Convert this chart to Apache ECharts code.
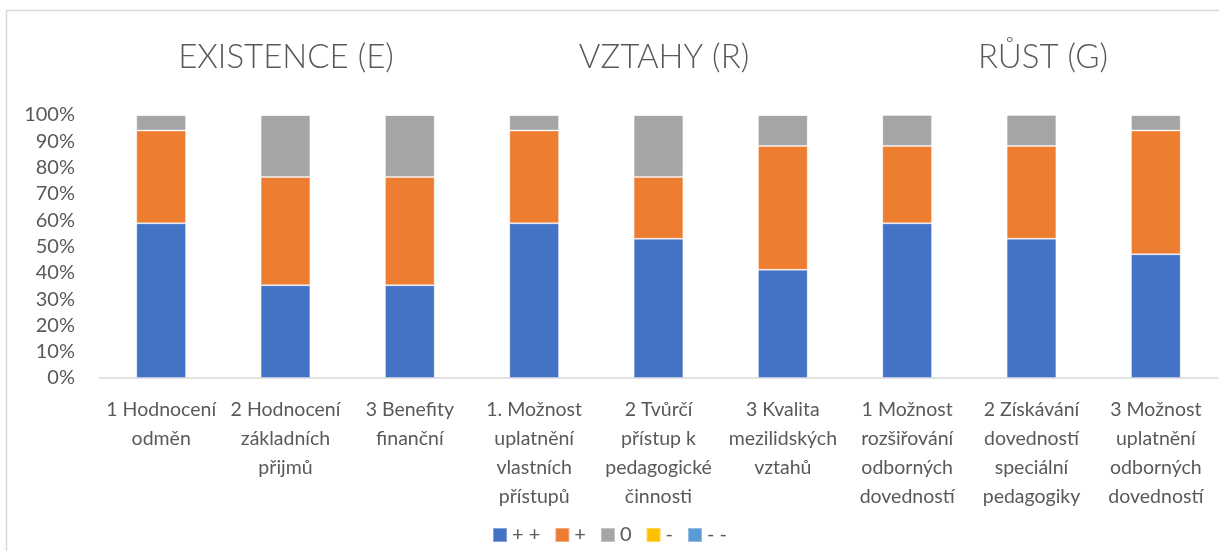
<!DOCTYPE html>
<html>
<head>
<meta charset="utf-8">
<script src="https://cdn.jsdelivr.net/npm/echarts@6/dist/echarts.min.js"></script>
<style>
  html, body { margin: 0; padding: 0; background: #fff; }
  #chart { width: 1219px; height: 551px; }
</style>
</head>
<body>
<div id="chart"></div>
<script>
// categories (line breaks as wrapped in the original)
const categories = [
  '1 Hodnocení\nodměn',
  '2 Hodnocení\nzákladních\npřijmů',
  '3 Benefity\nfinanční',
  '1. Možnost\nuplatnění\nvlastních\npřístupů',
  '2 Tvůrčí\npřístup k\npedagogické\nčinnosti',
  '3 Kvalita\nmezilidských\nvztahů',
  '1 Možnost\nrozšiřování\nodborných\ndovedností',
  '2 Získávání\ndovedností\nspeciální\npedagogiky',
  '3 Možnost\nuplatnění\nodborných\ndovedností'
]

// number of answers per category (17 respondents)
const veryPositive = [10, 6, 6, 10, 9, 7, 10, 9, 8]
const positive = [6, 7, 7, 6, 4, 8, 5, 6, 8]
const neutral = [1, 4, 4, 1, 4, 2, 2, 2, 1]
const negative = [0, 0, 0, 0, 0, 0, 0, 0, 0]
const veryNegative = [0, 0, 0, 0, 0, 0, 0, 0, 0]

const seriesNames = ['+ +', '+', '0', '-', '- -']
const colors = ['#4472C4', '#ED7D31', '#A5A5A5', '#FFC000', '#5B9BD5']

const groupTitles = ['EXISTENCE (E)', 'VZTAHY (R)', 'RŮST (G)']
const titleLefts = [281, 659, 1038]

const yTicks = [0, 10, 20, 30, 40, 50, 60, 70, 80, 90, 100]

const raw = [veryPositive, positive, neutral, negative, veryNegative]
const totals = categories.map((c, i) => raw.reduce((s, arr) => s + arr[i], 0))
const toPct = arr => arr.map((v, i) => v / totals[i] * 100)

const textColor = '#595959'
const font = 'Lato'

const chart = echarts.init(document.getElementById('chart'))

const options = {
  animation: false,
  color: colors,
  title: groupTitles.map((t, i) => ({
    text: t,
    left: titleLefts[i],
    top: 36,
    textAlign: 'center',
    textStyle: {
      fontFamily: font,
      fontWeight: 300,
      fontSize: 33,
      color: textColor
    }
  })),
  legend: {
    data: seriesNames,
    bottom: 1,
    left: 'center',
    icon: 'rect',
    itemWidth: 14,
    itemHeight: 14,
    itemGap: 14,
    textStyle: {
      fontFamily: font,
      fontSize: 20,
      color: textColor
    }
  },
  grid: {
    left: 99,
    right: 1,
    top: 115,
    bottom: 173
  },
  xAxis: {
    type: 'category',
    data: categories,
    axisTick: { show: false },
    axisLine: {
      lineStyle: { color: '#D9D9D9', width: 1.5 }
    },
    axisLabel: {
      interval: 0,
      margin: 17,
      fontFamily: font,
      fontSize: 19.5,
      lineHeight: 29,
      color: textColor
    }
  },
  yAxis: {
    type: 'value',
    min: yTicks[0],
    max: yTicks[yTicks.length - 1],
    interval: 10,
    axisLine: { show: false },
    axisTick: { show: false },
    splitLine: { show: false },
    axisLabel: {
      formatter: '{value}%',
      margin: 24,
      fontFamily: font,
      fontSize: 20,
      color: textColor
    }
  },
  graphic: [
    {
      type: 'rect',
      silent: true,
      shape: { x: 6.5, y: 10.5, width: 1300, height: 700 },
      style: { fill: 'none', stroke: '#D9D9D9', lineWidth: 1.5 }
    }
  ],
  series: raw.map((arr, i) => ({
    name: seriesNames[i],
    type: 'bar',
    stack: 'total',
    barWidth: '40%',
    data: toPct(arr),
    itemStyle: {
      borderColor: 'rgba(255,255,255,0.35)',
      borderWidth: 1
    }
  }))
}

chart.setOption(options)
</script>
</body>
</html>
